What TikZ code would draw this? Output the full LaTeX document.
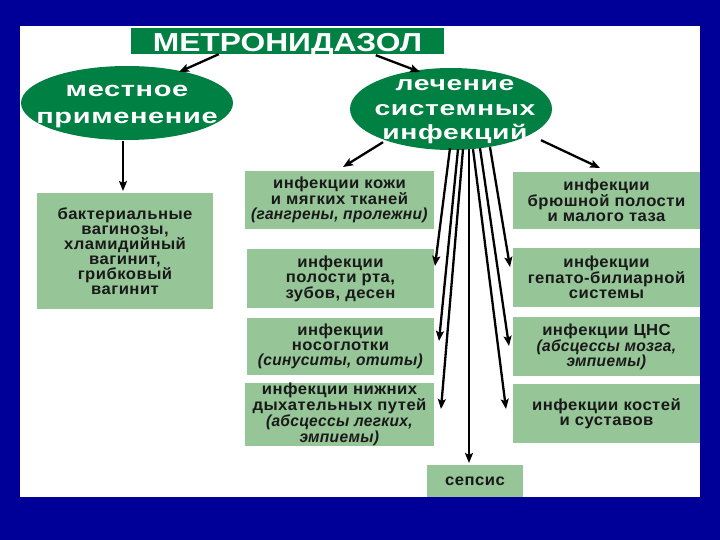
\documentclass[tikz,border=0pt]{standalone}
\usepackage{fontspec}
\setmainfont{Liberation Sans}
\newfontfamily\titlefont[FakeStretch=1.22]{Liberation Sans}
\newfontfamily\ovalfont[FakeStretch=1.38,LetterSpace=3]{Liberation Sans}
\newfontfamily\boxfont[FakeStretch=1.04,LetterSpace=3,BoldItalicFeatures={FakeStretch=0.97,LetterSpace=2}]{Liberation Sans}
\usetikzlibrary{arrows.meta,shapes.geometric}
\definecolor{bgblue}{RGB}{0,0,153}
\definecolor{dgreen}{RGB}{0,128,66}
\definecolor{lgreen}{RGB}{150,197,152}
\definecolor{txt}{RGB}{25,25,25}
\tikzset{
  box/.style={rectangle, fill=lgreen, inner sep=0pt, align=center, text=txt,
     font=\boxfont\fontsize{16}{15}\selectfont\bfseries},
  oval/.style={ellipse, fill=dgreen, inner sep=0pt},
  ovaltext/.style={inner sep=0pt, align=center, text=white},
  arr/.style={draw=black, line width=2.3pt, -{Stealth[length=10pt,width=8pt,inset=2pt]}},
}
\begin{document}
\begin{tikzpicture}[x=1pt,y=-1pt]
\fill[bgblue] (0,0) rectangle (720,540);
\fill[white] (20,26) rectangle (700,497);
\useasboundingbox (0,0) rectangle (720,540);

\node[rectangle, fill=dgreen, minimum width=313pt, minimum height=26pt, inner sep=0pt,
  text height=22pt, text depth=0pt,
  text=white, font=\titlefont\fontsize{26}{26}\selectfont\bfseries] (title) at (287.5,41) {МЕТРОНИДАЗОЛ};

\node[oval, minimum width=212pt, minimum height=74pt] (e1) at (127,103) {};
\node[ovaltext, font=\ovalfont\fontsize{21}{27}\selectfont\bfseries] (e1t) at (127,107) {местное\\применение};
\node[oval, minimum width=202pt, minimum height=82pt] (e2) at (451,109) {};
\node[ovaltext, font=\ovalfont\fontsize{20.5}{24.5}\selectfont\bfseries] (e2t) at (455,112) {лечение\\системных\\инфекций};

\node[box, minimum width=176pt, minimum height=116pt] (L) at (125,251) {бактериальные\\вагинозы,\\хламидийный\\вагинит,\\грибковый\\вагинит};

\node[box, minimum width=189pt, minimum height=58pt] (M1) at (339.5,200) {инфекции кожи\\и мягких тканей\\\textit{(гангрены, пролежни)}};
\node[box, minimum width=187pt, minimum height=59pt] (M2) at (340.5,278.5) {инфекции\\полости рта,\\зубов, десен};
\node[box, minimum width=187pt, minimum height=57pt] (M3) at (340.5,346.5) {инфекции\\носоглотки\\\textit{(синуситы, отиты)}};
\node[box, minimum width=189pt, minimum height=59pt, font=\boxfont\fontsize{16}{14.3}\selectfont\bfseries] (M4) at (339.5,414.5) {инфекции нижних\\дыхательных путей\\\textit{(абсцессы легких,}\\\textit{эмпиемы)}};
\node[box, minimum width=96pt, minimum height=32pt] (S) at (475,481) {сепсис};

\node[box, minimum width=187pt, minimum height=57pt] (R1) at (606.5,200.5) {инфекции\\брюшной полости\\и малого таза};
\node[box, minimum width=187pt, minimum height=59pt] (R2) at (606.5,277.5) {инфекции\\гепато-билиарной\\системы};
\node[box, minimum width=187pt, minimum height=59pt] (R3) at (606.5,346.5) {инфекции ЦНС\\\textit{(абсцессы мозга,}\\\textit{эмпиемы)}};
\node[box, minimum width=187pt, minimum height=59pt] (R4) at (606.5,413.5) {инфекции костей\\и суставов};

% connector end points
\coordinate (t1) at (179,72);
\coordinate (t2) at (420,72);
\coordinate (tL) at (123,191);
\coordinate (tM1) at (343,167);
\coordinate (tR1) at (600,168);
\coordinate (tM2) at (435,266);
\coordinate (tM3) at (439,341);
\coordinate (tM4) at (441,409);
\coordinate (tS) at (469,463);
\coordinate (tR4) at (506,409);
\coordinate (tR3) at (509,346);
\coordinate (tR2) at (510,267);

\draw[arr] (title.south west) ++(88,0) -- (t1);
\draw[arr] (title.south west) ++(245,1) -- (t2);
\draw[arr] (e1.south) ++(-4,1) -- (tL);
\draw[arr] (e2.south) ++(-68,-8) -- (tM1);
\draw[arr] (e2.south) ++(90,-10) -- (tR1);
\draw[arr] (e2.south) ++(-1,-2) -- (tM2);
\draw[arr] (e2.south) ++(7,-1) -- (tM3);
\draw[arr] (e2.south) ++(12,-1) -- (tM4);
\draw[arr] (e2.south) ++(18,-1) -- (tS);
\draw[arr] (e2.south) ++(22,-1) -- (tR4);
\draw[arr] (e2.south) ++(29,-2) -- (tR3);
\draw[arr] (e2.south) ++(39,-3) -- (tR2);
\end{tikzpicture}
\end{document}
